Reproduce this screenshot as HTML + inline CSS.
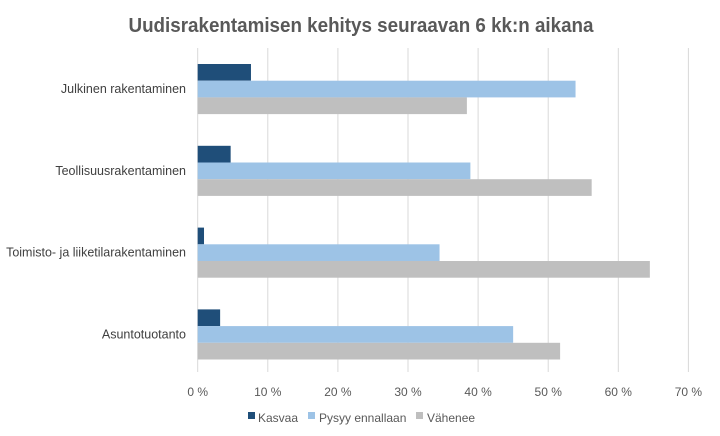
<!DOCTYPE html>
<html><head><meta charset="utf-8"><style>
html,body{margin:0;padding:0;background:#fff;}
svg{display:block;font-family:"Liberation Sans",sans-serif;}
</style></head><body>
<svg id="chart" width="720" height="436" viewBox="0 0 720 436">
<rect width="720" height="436" fill="#fff"/>
<text x="361" y="32" text-anchor="middle" font-size="20" font-weight="bold" fill="#595959" textLength="465" lengthAdjust="spacingAndGlyphs">Uudisrakentamisen kehitys seuraavan 6 kk:n aikana</text>
<g id="grid"></g><g id="bars"></g><g id="cats"></g><g id="ticks"></g>
<g>
<rect x="248" y="412" width="7" height="7" fill="#1f4e79"/>
<text x="258" y="422" font-size="12" fill="#595959">Kasvaa</text>
<rect x="308" y="412" width="7" height="7" fill="#9dc3e6"/>
<text x="319" y="422" font-size="12" fill="#595959">Pysyy ennallaan</text>
<rect x="416" y="412" width="7" height="7" fill="#bfbfbf"/>
<text x="427" y="422" font-size="12" fill="#595959">Vähenee</text>
</g>
</svg>
<script>
const categories = ["Julkinen rakentaminen","Teollisuusrakentaminen","Toimisto- ja liiketilarakentaminen","Asuntotuotanto"];
const kasvaa = [7.6, 4.7, 0.9, 3.2];
const pysyy = [53.9, 38.9, 34.5, 45.0];
const vahenee = [38.4, 56.2, 64.5, 51.7];
const tickValues = [0,10,20,30,40,50,60,70];
const tickLabels = ["0 %","10 %","20 %","30 %","40 %","50 %","60 %","70 %"];

const NS="http://www.w3.org/2000/svg";
const x0=197.7, pxPer=7.01;
const xs=v=>x0+v*pxPer;
const plotTop=48, plotBot=372, groupTop=64, groupStep=81.8, barH=16.7;
function mk(tag,attrs,parent){const e=document.createElementNS(NS,tag);for(const k in attrs)e.setAttribute(k,attrs[k]);document.getElementById(parent).appendChild(e);return e;}
tickValues.forEach((t,i)=>{
  const l=mk('line',{x1:xs(t),x2:xs(t),y1:plotTop,y2:plotBot,stroke:'#d9d9d9','stroke-width':1},'grid');
  
  
  const tx=mk('text',{x:xs(t),y:396,'text-anchor':'middle','font-size':12,fill:'#595959'},'ticks');
  tx.textContent=tickLabels[i];
  
  
});
const series=[[kasvaa,'#1f4e79','kasvaa'],[pysyy,'#9dc3e6','pysyy'],[vahenee,'#bfbfbf','vahenee']];
categories.forEach((c,ci)=>{
  const gy=groupTop+ci*groupStep;
  series.forEach((s,si)=>{
    const r=mk('rect',{x:xs(0),y:gy+si*barH,width:xs(s[0][ci])-xs(0),height:barH,fill:s[1]},'bars');
    
    
  });
  const t=mk('text',{x:186,y:gy+1.5*barH+4,'text-anchor':'end','font-size':12.5,fill:'#404040'},'cats');
  t.textContent=c;
  
  
});
</script>
</body></html>
